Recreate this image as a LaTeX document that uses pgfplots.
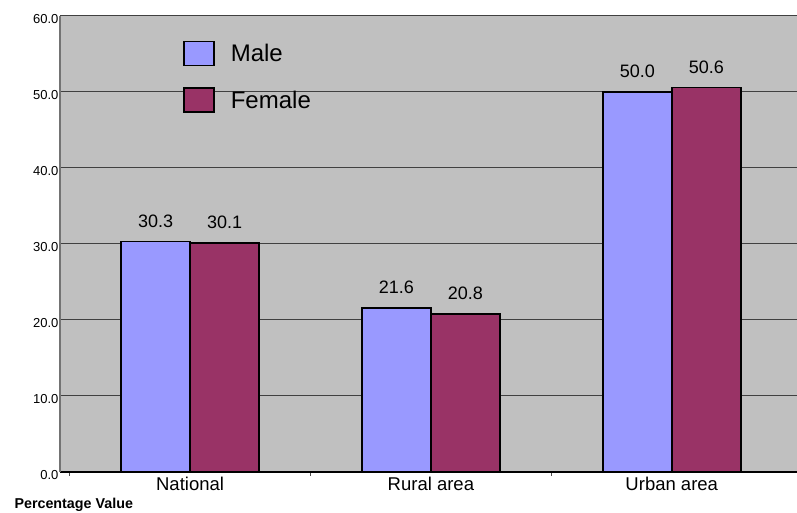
\documentclass[border=0pt]{standalone}
\usepackage{pgfplots}
\pgfplotsset{compat=1.18}
\usepackage{fontspec}
\setmainfont{Liberation Sans}
\definecolor{male}{HTML}{9999FF}
\definecolor{female}{HTML}{993366}
\definecolor{plotbg}{HTML}{C0C0C0}
\begin{document}
\begin{tikzpicture}
\path[use as bounding box] (0,0) rectangle (797pt,513pt);
\begin{axis}[
    at={(60pt,41pt)}, anchor=south west,
    scale only axis, width=737pt, height=456pt,
    clip=false,
    ybar=0pt, bar width=69pt,
    xmin=-0.54, xmax=2.52, ymin=0, ymax=60,
    xtick={0,1,2},
    xticklabels={National, Rural area, Urban area},
    minor xtick={-0.5,0.5,1.5},
    major x tick style={draw=none},
    minor x tick style={black!70, line width=0.8pt},
    minor tick length=4pt,
    xtick pos=bottom, tickpos=left,
    xticklabel style={font=\fontsize{18.5}{22}\selectfont, inner sep=1pt},
    ytick={0,10,...,60},
    major y tick style={draw=none},
    /pgf/number format/assume math mode=true,
    yticklabel style={font=\fontsize{13}{15}\selectfont, yshift=-3pt,
        /pgf/number format/.cd, fixed, fixed zerofill, precision=1},
    yticklabel shift=-2pt,
    ymajorgrids, grid style={black!75, line width=1pt},
    axis background/.style={fill=plotbg},
    axis x line*=bottom, axis y line*=left,
    x axis line style={line width=2pt, black, -},
    y axis line style={black!55, line width=1.2pt, -},
    nodes near coords,
    nodes near coords style={font=\fontsize{18}{21}\selectfont, yshift=10pt,
        /pgf/number format/.cd, fixed, fixed zerofill, precision=1},
    legend style={draw=none, fill=none, at={(0.163,0.95)}, anchor=north west,
        font=\fontsize{24}{28}\selectfont, row sep=21pt,
        /tikz/every odd column/.append style={column sep=14pt}},
    legend cell align=left,
    legend image code/.code={\draw[#1, draw=black, line width=1.5pt] (0pt,-12pt) rectangle (30pt,12pt);},
]
\addplot[fill=male, draw=black, line width=1.5pt] coordinates {(0,30.3) (1,21.6) (2,50.0)};
\addplot[fill=female, draw=black, line width=1.5pt] coordinates {(0,30.1) (1,20.8) (2,50.6)};
\legend{Male, Female}
\end{axis}
\node[anchor=west, font=\bfseries\fontsize{14.3}{17}\selectfont] at (11pt,8pt) {Percentage Value};
\end{tikzpicture}
\end{document}
